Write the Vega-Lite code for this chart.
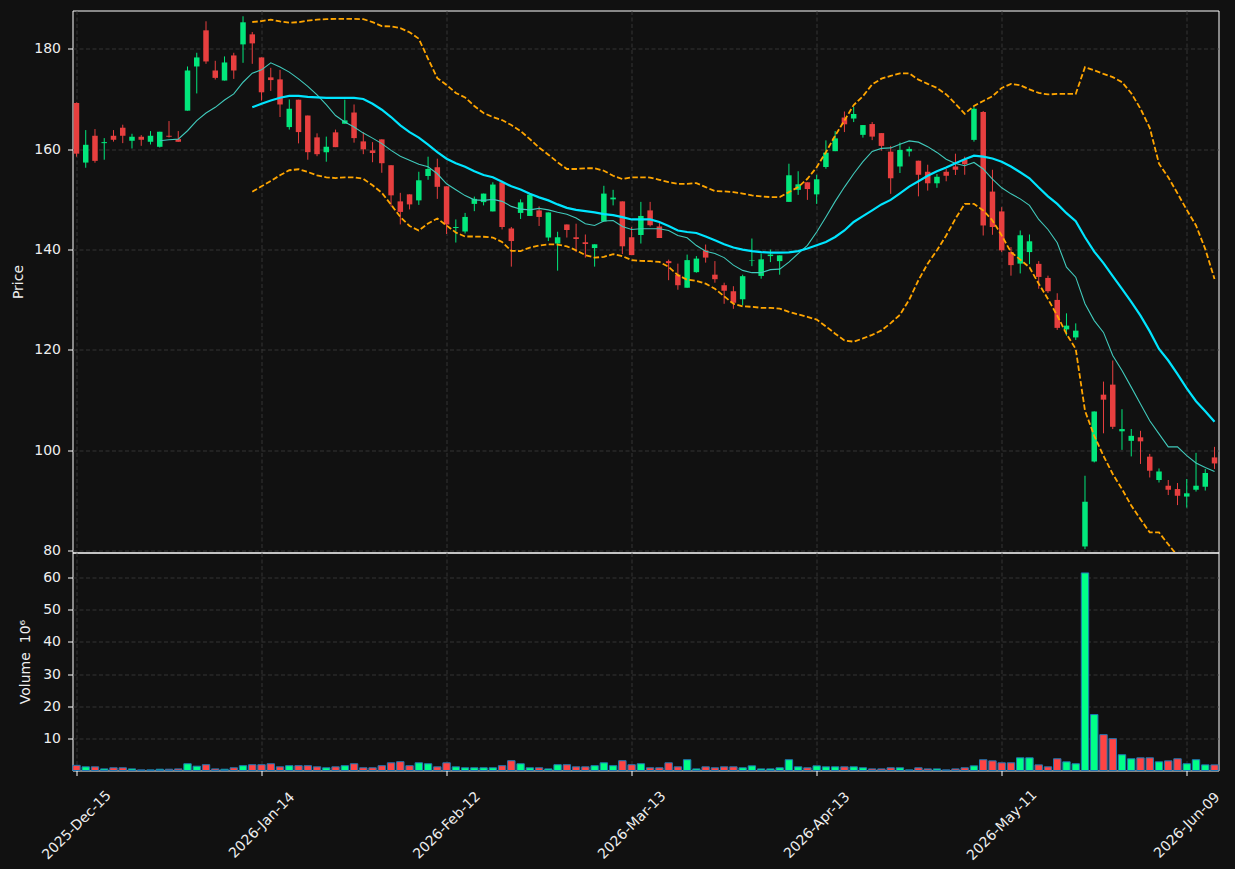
{
  "$schema": "https://vega.github.io/schema/vega-lite/v6.json",
  "background": "#111111",
  "padding": {"left": 10.5, "top": 9.5, "right": 15, "bottom": 5},
  "spacing": 0,
  "bounds": "flush",
  "config": {
    "font": "DejaVu Sans",
    "view": {"stroke": "#ffffff", "strokeWidth": 1},
    "axis": {
      "labelColor": "#eeeeee", "titleColor": "#eeeeee",
      "labelFontSize": 14, "titleFontSize": 14, "titleFontWeight": "normal",
      "labelFont": "DejaVu Sans", "titleFont": "DejaVu Sans",
      "tickColor": "#ffffff", "tickSize": 5, "domain": false,
      "gridColor": "#3d3d3d", "gridDash": [4, 2.5], "gridWidth": 0.8,
      "labelOverlap": false
    }
  },
  "data": {"values": [
    {"d":"2025-12-15","o":169.2,"h":169.3,"l":158.5,"c":159.1,"v":1.6},
    {"d":"2025-12-16","o":157.33,"h":163.8,"l":156.3,"c":160.87,"v":1.15},
    {"d":"2025-12-17","o":162.67,"h":164.0,"l":157.3,"c":157.67,"v":1.15},
    {"d":"2025-12-18","o":161.2,"h":162.2,"l":157.9,"c":161.4,"v":0.5},
    {"d":"2025-12-19","o":162.67,"h":163.8,"l":161.5,"c":161.87,"v":0.85},
    {"d":"2025-12-22","o":164.27,"h":164.87,"l":161.2,"c":162.67,"v":0.85},
    {"d":"2025-12-23","o":161.67,"h":163.07,"l":160.13,"c":162.47,"v":0.5},
    {"d":"2025-12-24","o":162.47,"h":162.8,"l":160.67,"c":161.87,"v":0.2},
    {"d":"2025-12-26","o":161.47,"h":163.6,"l":160.93,"c":162.67,"v":0.2},
    {"d":"2025-12-29","o":160.47,"h":163.47,"l":160.33,"c":163.47,"v":0.4,"m10":161.67},
    {"d":"2025-12-30","o":162.67,"h":165.6,"l":162.33,"c":162.47,"v":0.4,"m10":161.87},
    {"d":"2025-12-31","o":162.0,"h":163.6,"l":161.47,"c":161.47,"v":0.5,"m10":162.0},
    {"d":"2026-01-02","o":167.67,"h":176.47,"l":167.67,"c":175.67,"v":2.1,"m10":163.67},
    {"d":"2026-01-05","o":176.47,"h":179.2,"l":171.1,"c":178.27,"v":1.35,"m10":165.67},
    {"d":"2026-01-06","o":183.67,"h":185.47,"l":177.0,"c":177.47,"v":1.8,"m10":167.2},
    {"d":"2026-01-07","o":175.67,"h":177.6,"l":173.87,"c":174.2,"v":0.5,"m10":168.33},
    {"d":"2026-01-08","o":173.67,"h":178.47,"l":173.67,"c":177.27,"v":0.4,"m10":169.8},
    {"d":"2026-01-09","o":178.67,"h":179.2,"l":174.0,"c":175.67,"v":0.85,"m10":171.0},
    {"d":"2026-01-12","o":180.87,"h":186.47,"l":177.2,"c":185.27,"v":1.5,"m10":173.33},
    {"d":"2026-01-13","o":182.87,"h":183.33,"l":177.0,"c":181.07,"v":1.8,"m10":175.13,"m20":168.33,"bu":185.33,"bl":151.53},
    {"d":"2026-01-14","o":178.27,"h":178.27,"l":169.67,"c":171.33,"v":1.8,"m10":175.8,"m20":169.05,"bu":185.5,"bl":152.6},
    {"d":"2026-01-15","o":174.3,"h":176.2,"l":171.6,"c":173.76,"v":2.1,"m10":177.2,"m20":169.7,"bu":185.8,"bl":153.65},
    {"d":"2026-01-16","o":173.9,"h":175.8,"l":166.4,"c":168.9,"v":1.15,"m10":176.35,"m20":170.25,"bu":185.45,"bl":154.8},
    {"d":"2026-01-20","o":164.4,"h":169.9,"l":163.9,"c":168.05,"v":1.5,"m10":175.35,"m20":170.6,"bu":185.2,"bl":155.8},
    {"d":"2026-01-21","o":169.85,"h":169.85,"l":161.15,"c":163.4,"v":1.5,"m10":174.0,"m20":170.6,"bu":185.3,"bl":156.0},
    {"d":"2026-01-22","o":166.7,"h":166.7,"l":157.9,"c":159.4,"v":1.5,"m10":172.5,"m20":170.4,"bu":185.6,"bl":155.45},
    {"d":"2026-01-23","o":162.35,"h":163.15,"l":158.6,"c":159.0,"v":1.15,"m10":170.8,"m20":170.3,"bu":185.8,"bl":154.8},
    {"d":"2026-01-26","o":159.4,"h":162.5,"l":157.5,"c":160.5,"v":0.85,"m10":168.85,"m20":170.2,"bu":185.9,"bl":154.4},
    {"d":"2026-01-27","o":163.35,"h":163.9,"l":160.4,"c":160.4,"v":1.15,"m10":166.7,"m20":170.2,"bu":185.95,"bl":154.25},
    {"d":"2026-01-28","o":165.07,"h":169.85,"l":165.07,"c":165.73,"v":1.5,"m10":165.4,"m20":170.2,"bu":185.95,"bl":154.4},
    {"d":"2026-01-29","o":167.3,"h":168.9,"l":161.3,"c":162.2,"v":2.1,"m10":164.4,"m20":170.2,"bu":185.95,"bl":154.4},
    {"d":"2026-01-30","o":161.55,"h":163.4,"l":159.0,"c":159.96,"v":0.85,"m10":163.2,"m20":170.0,"bu":185.9,"bl":154.1},
    {"d":"2026-02-02","o":159.76,"h":161.4,"l":157.4,"c":159.23,"v":0.85,"m10":162.2,"m20":169.05,"bu":185.3,"bl":152.8},
    {"d":"2026-02-03","o":161.95,"h":161.95,"l":155.3,"c":157.2,"v":1.5,"m10":161.1,"m20":167.85,"bu":184.5,"bl":151.3},
    {"d":"2026-02-04","o":156.8,"h":156.8,"l":148.6,"c":150.8,"v":2.4,"m10":159.75,"m20":166.4,"bu":184.45,"bl":148.95},
    {"d":"2026-02-05","o":149.6,"h":151.3,"l":145.0,"c":147.5,"v":2.75,"m10":158.6,"m20":164.75,"bu":184.1,"bl":146.5},
    {"d":"2026-02-06","o":151.0,"h":151.0,"l":148.0,"c":149.0,"v":1.5,"m10":157.8,"m20":163.4,"bu":183.3,"bl":144.7},
    {"d":"2026-02-09","o":149.8,"h":155.5,"l":148.9,"c":153.8,"v":2.4,"m10":157.0,"m20":162.3,"bu":182.0,"bl":143.8},
    {"d":"2026-02-10","o":154.65,"h":158.5,"l":153.9,"c":156.05,"v":2.1,"m10":156.5,"m20":160.9,"bu":178.0,"bl":145.2},
    {"d":"2026-02-11","o":156.4,"h":158.1,"l":150.1,"c":152.5,"v":1.15,"m10":155.1,"m20":159.4,"bu":174.15,"bl":146.2},
    {"d":"2026-02-12","o":152.6,"h":152.6,"l":143.1,"c":145.0,"v":2.4,"m10":153.1,"m20":158.1,"bu":172.8,"bl":144.8},
    {"d":"2026-02-13","o":144.3,"h":146.0,"l":141.4,"c":144.5,"v":1.15,"m10":151.9,"m20":157.2,"bu":171.2,"bl":143.4},
    {"d":"2026-02-17","o":143.6,"h":147.3,"l":143.2,"c":146.5,"v":0.85,"m10":150.75,"m20":156.5,"bu":170.3,"bl":142.6},
    {"d":"2026-02-18","o":149.1,"h":150.55,"l":147.65,"c":150.1,"v":0.85,"m10":149.9,"m20":155.6,"bu":168.6,"bl":142.6},
    {"d":"2026-02-19","o":149.45,"h":151.15,"l":148.8,"c":151.15,"v":0.85,"m10":149.8,"m20":154.85,"bu":167.2,"bl":142.55},
    {"d":"2026-02-20","o":147.6,"h":153.4,"l":147.6,"c":152.95,"v":0.85,"m10":150.0,"m20":154.4,"bu":166.4,"bl":142.4},
    {"d":"2026-02-23","o":153.4,"h":153.7,"l":144.0,"c":144.5,"v":1.5,"m10":149.6,"m20":153.5,"bu":165.8,"bl":141.5},
    {"d":"2026-02-24","o":144.2,"h":144.5,"l":136.6,"c":141.7,"v":3.05,"m10":148.6,"m20":152.6,"bu":164.8,"bl":139.75},
    {"d":"2026-02-25","o":147.3,"h":150.0,"l":146.1,"c":149.4,"v":2.1,"m10":148.05,"m20":151.95,"bu":163.6,"bl":139.7},
    {"d":"2026-02-26","o":146.7,"h":151.1,"l":146.7,"c":150.95,"v":0.85,"m10":147.9,"m20":151.1,"bu":162.0,"bl":140.4},
    {"d":"2026-02-27","o":147.8,"h":148.6,"l":144.7,"c":146.5,"v":0.85,"m10":148.2,"m20":150.4,"bu":160.3,"bl":140.8},
    {"d":"2026-03-02","o":142.4,"h":147.4,"l":141.7,"c":147.4,"v":0.5,"m10":147.9,"m20":149.8,"bu":158.9,"bl":141.05},
    {"d":"2026-03-03","o":141.2,"h":143.55,"l":135.8,"c":142.45,"v":1.8,"m10":147.45,"m20":149.0,"bu":157.4,"bl":141.0},
    {"d":"2026-03-04","o":145.0,"h":145.0,"l":142.4,"c":143.9,"v":1.8,"m10":147.05,"m20":148.3,"bu":156.05,"bl":140.65},
    {"d":"2026-03-05","o":142.45,"h":145.15,"l":139.5,"c":142.1,"v":1.15,"m10":146.3,"m20":147.9,"bu":156.05,"bl":139.85},
    {"d":"2026-03-06","o":141.45,"h":143.0,"l":138.4,"c":141.1,"v":1.15,"m10":145.15,"m20":147.65,"bu":156.2,"bl":138.9},
    {"d":"2026-03-09","o":140.3,"h":141.05,"l":136.6,"c":141.05,"v":1.5,"m10":144.8,"m20":147.4,"bu":156.2,"bl":138.4},
    {"d":"2026-03-10","o":145.6,"h":152.7,"l":145.6,"c":151.15,"v":2.4,"m10":145.7,"m20":147.05,"bu":155.7,"bl":138.55},
    {"d":"2026-03-11","o":150.0,"h":151.9,"l":148.8,"c":150.35,"v":1.5,"m10":145.8,"m20":146.85,"bu":154.7,"bl":139.1},
    {"d":"2026-03-12","o":149.6,"h":149.6,"l":139.1,"c":140.65,"v":3.05,"m10":144.6,"m20":146.45,"bu":154.05,"bl":138.7},
    {"d":"2026-03-13","o":142.45,"h":144.5,"l":138.9,"c":138.9,"v":1.8,"m10":144.0,"m20":146.0,"bu":154.4,"bl":137.9},
    {"d":"2026-03-16","o":142.9,"h":149.5,"l":141.2,"c":146.7,"v":2.1,"m10":144.15,"m20":146.0,"bu":154.4,"bl":137.75},
    {"d":"2026-03-17","o":147.8,"h":149.5,"l":144.6,"c":144.85,"v":0.85,"m10":144.15,"m20":146.0,"bu":154.35,"bl":137.7},
    {"d":"2026-03-18","o":144.6,"h":145.5,"l":142.3,"c":142.3,"v":0.85,"m10":144.15,"m20":145.5,"bu":153.9,"bl":137.55},
    {"d":"2026-03-19","o":137.7,"h":138.0,"l":133.9,"c":137.3,"v":2.4,"m10":143.8,"m20":144.7,"bu":153.45,"bl":136.55},
    {"d":"2026-03-20","o":135.0,"h":137.2,"l":132.0,"c":132.9,"v":1.15,"m10":142.8,"m20":143.8,"bu":153.1,"bl":134.9},
    {"d":"2026-03-23","o":132.4,"h":139.0,"l":132.4,"c":137.9,"v":3.35,"m10":142.35,"m20":143.5,"bu":153.1,"bl":134.0},
    {"d":"2026-03-24","o":135.5,"h":138.7,"l":135.4,"c":138.2,"v":0.5,"m10":140.8,"m20":143.3,"bu":153.25,"bl":133.75},
    {"d":"2026-03-25","o":139.85,"h":141.0,"l":137.4,"c":138.4,"v":1.15,"m10":139.65,"m20":142.6,"bu":152.45,"bl":133.2},
    {"d":"2026-03-26","o":135.0,"h":137.7,"l":133.4,"c":134.1,"v":0.85,"m10":139.2,"m20":141.85,"bu":151.65,"bl":132.2},
    {"d":"2026-03-27","o":132.9,"h":133.4,"l":129.2,"c":131.8,"v":1.15,"m10":138.4,"m20":141.05,"bu":151.6,"bl":130.7},
    {"d":"2026-03-30","o":131.7,"h":132.7,"l":128.2,"c":129.4,"v":1.15,"m10":136.9,"m20":140.4,"bu":151.45,"bl":129.2},
    {"d":"2026-03-31","o":130.1,"h":135.0,"l":128.9,"c":134.7,"v":0.85,"m10":135.85,"m20":140.0,"bu":151.15,"bl":128.7},
    {"d":"2026-04-01","o":137.75,"h":142.2,"l":136.7,"c":137.85,"v":1.45,"m10":135.4,"m20":139.7,"bu":150.8,"bl":128.6},
    {"d":"2026-04-02","o":134.75,"h":139.2,"l":134.2,"c":138.05,"v":0.5,"m10":135.4,"m20":139.5,"bu":150.6,"bl":128.4},
    {"d":"2026-04-06","o":138.7,"h":140.0,"l":137.5,"c":139.0,"v":0.5,"m10":136.0,"m20":139.4,"bu":150.45,"bl":128.4},
    {"d":"2026-04-07","o":137.7,"h":138.85,"l":135.0,"c":138.85,"v":0.85,"m10":136.1,"m20":139.4,"bu":150.45,"bl":128.25},
    {"d":"2026-04-08","o":149.5,"h":157.1,"l":149.5,"c":154.8,"v":3.35,"m10":137.5,"m20":139.45,"bu":151.45,"bl":127.6},
    {"d":"2026-04-09","o":151.9,"h":155.6,"l":150.9,"c":153.0,"v":1.15,"m10":139.2,"m20":139.7,"bu":152.45,"bl":127.1},
    {"d":"2026-04-10","o":153.4,"h":153.4,"l":149.9,"c":152.05,"v":0.85,"m10":140.85,"m20":140.2,"bu":154.1,"bl":126.6},
    {"d":"2026-04-13","o":151.0,"h":154.9,"l":149.1,"c":154.0,"v":1.45,"m10":143.5,"m20":140.85,"bu":156.4,"bl":126.05},
    {"d":"2026-04-14","o":156.45,"h":161.75,"l":156.1,"c":159.3,"v":1.15,"m10":146.5,"m20":141.5,"bu":159.4,"bl":124.7},
    {"d":"2026-04-15","o":159.6,"h":163.6,"l":159.6,"c":162.15,"v":1.15,"m10":149.6,"m20":142.5,"bu":162.7,"bl":123.25},
    {"d":"2026-04-16","o":166.3,"h":167.5,"l":163.4,"c":164.95,"v":1.15,"m10":152.45,"m20":143.8,"bu":165.7,"bl":121.9},
    {"d":"2026-04-17","o":166.1,"h":168.4,"l":165.4,"c":167.0,"v":1.15,"m10":155.1,"m20":145.5,"bu":168.8,"bl":121.65},
    {"d":"2026-04-20","o":162.85,"h":164.8,"l":162.3,"c":164.8,"v":0.85,"m10":157.5,"m20":146.65,"bu":170.55,"bl":122.3},
    {"d":"2026-04-21","o":165.0,"h":165.4,"l":161.8,"c":162.5,"v":0.5,"m10":159.55,"m20":147.8,"bu":172.9,"bl":123.0},
    {"d":"2026-04-22","o":163.2,"h":163.2,"l":159.7,"c":160.65,"v":0.5,"m10":160.15,"m20":149.0,"bu":174.05,"bl":123.9},
    {"d":"2026-04-23","o":159.5,"h":160.65,"l":151.1,"c":154.2,"v":0.85,"m10":160.25,"m20":149.9,"bu":174.6,"bl":125.35},
    {"d":"2026-04-24","o":156.55,"h":161.3,"l":155.25,"c":159.85,"v":0.85,"m10":161.0,"m20":151.2,"bu":175.1,"bl":127.0},
    {"d":"2026-04-27","o":159.55,"h":160.5,"l":158.55,"c":160.05,"v":0.2,"m10":161.65,"m20":152.55,"bu":175.1,"bl":130.0},
    {"d":"2026-04-28","o":157.7,"h":157.7,"l":150.6,"c":154.9,"v":0.85,"m10":161.4,"m20":153.6,"bu":173.85,"bl":133.9},
    {"d":"2026-04-29","o":155.5,"h":156.9,"l":151.75,"c":153.2,"v":0.5,"m10":160.5,"m20":154.7,"bu":173.0,"bl":137.2},
    {"d":"2026-04-30","o":153.2,"h":155.05,"l":152.3,"c":154.5,"v":0.5,"m10":159.35,"m20":155.6,"bu":172.2,"bl":139.85},
    {"d":"2026-05-01","o":155.5,"h":156.05,"l":153.6,"c":154.7,"v":0.2,"m10":158.0,"m20":156.35,"bu":170.9,"bl":142.8},
    {"d":"2026-05-04","o":156.55,"h":159.1,"l":154.85,"c":155.9,"v":0.5,"m10":157.15,"m20":157.2,"bu":169.05,"bl":146.15},
    {"d":"2026-05-05","o":157.95,"h":158.5,"l":154.9,"c":157.0,"v":0.85,"m10":156.7,"m20":158.0,"bu":167.05,"bl":149.1},
    {"d":"2026-05-06","o":161.85,"h":168.4,"l":161.5,"c":168.05,"v":1.45,"m10":157.35,"m20":158.7,"bu":168.6,"bl":149.1},
    {"d":"2026-05-07","o":167.4,"h":167.6,"l":142.8,"c":144.8,"v":3.35,"m10":156.05,"m20":158.5,"bu":169.6,"bl":147.8},
    {"d":"2026-05-08","o":151.55,"h":155.9,"l":142.95,"c":144.5,"v":3.0,"m10":154.05,"m20":158.15,"bu":170.55,"bl":145.8},
    {"d":"2026-05-11","o":147.6,"h":148.45,"l":139.5,"c":139.85,"v":2.4,"m10":152.3,"m20":157.5,"bu":172.2,"bl":142.8},
    {"d":"2026-05-12","o":139.5,"h":140.5,"l":134.8,"c":136.9,"v":2.4,"m10":151.1,"m20":156.55,"bu":173.0,"bl":139.5},
    {"d":"2026-05-13","o":137.2,"h":143.8,"l":135.25,"c":142.85,"v":3.95,"m10":150.1,"m20":155.4,"bu":172.75,"bl":138.0},
    {"d":"2026-05-14","o":139.5,"h":143.0,"l":137.1,"c":141.65,"v":3.95,"m10":148.8,"m20":154.2,"bu":171.9,"bl":136.45},
    {"d":"2026-05-15","o":137.15,"h":137.7,"l":132.2,"c":134.55,"v":1.75,"m10":146.0,"m20":152.35,"bu":171.2,"bl":133.2},
    {"d":"2026-05-18","o":134.35,"h":134.8,"l":131.35,"c":131.7,"v":1.15,"m10":144.0,"m20":150.6,"bu":170.9,"bl":130.15},
    {"d":"2026-05-19","o":129.97,"h":131.3,"l":124.0,"c":124.4,"v":3.65,"m10":141.35,"m20":149.1,"bu":171.0,"bl":126.85},
    {"d":"2026-05-20","o":124.1,"h":127.3,"l":122.85,"c":124.85,"v":2.7,"m10":136.5,"m20":147.25,"bu":171.0,"bl":123.2},
    {"d":"2026-05-21","o":122.5,"h":125.3,"l":122.0,"c":123.85,"v":2.1,"m10":134.5,"m20":145.65,"bu":171.0,"bl":120.2},
    {"d":"2026-05-22","o":80.86,"h":94.95,"l":80.33,"c":89.77,"v":61.45,"m10":129.2,"m20":142.45,"bu":176.35,"bl":107.9},
    {"d":"2026-05-26","o":97.8,"h":107.77,"l":97.6,"c":107.77,"v":17.4,"m10":125.85,"m20":139.6,"bu":175.7,"bl":102.9},
    {"d":"2026-05-27","o":111.1,"h":113.7,"l":103.4,"c":110.1,"v":11.15,"m10":123.5,"m20":137.3,"bu":175.0,"bl":98.9},
    {"d":"2026-05-28","o":113.1,"h":117.9,"l":104.25,"c":104.7,"v":9.9,"m10":118.9,"m20":134.7,"bu":174.35,"bl":95.3},
    {"d":"2026-05-29","o":103.8,"h":108.2,"l":100.1,"c":104.25,"v":4.9,"m10":115.9,"m20":132.15,"bu":173.35,"bl":92.3},
    {"d":"2026-06-01","o":101.9,"h":104.25,"l":98.8,"c":102.9,"v":3.65,"m10":112.6,"m20":129.6,"bu":171.15,"bl":89.0},
    {"d":"2026-06-02","o":102.6,"h":103.9,"l":97.3,"c":101.8,"v":3.95,"m10":109.25,"m20":126.85,"bu":168.05,"bl":86.3},
    {"d":"2026-06-03","o":98.75,"h":99.3,"l":94.6,"c":95.95,"v":3.95,"m10":105.9,"m20":123.7,"bu":164.25,"bl":83.65},
    {"d":"2026-06-04","o":94.1,"h":96.4,"l":93.6,"c":95.8,"v":2.7,"m10":103.3,"m20":120.2,"bu":157.1,"bl":83.65},
    {"d":"2026-06-05","o":92.96,"h":94.1,"l":91.1,"c":92.16,"v":3.0,"m10":100.7,"m20":117.9,"bu":154.4,"bl":81.3},
    {"d":"2026-06-08","o":92.3,"h":93.5,"l":89.1,"c":90.96,"v":3.65,"m10":100.7,"m20":115.2,"bu":151.2,"bl":79.0},
    {"d":"2026-06-09","o":90.8,"h":94.3,"l":88.6,"c":91.45,"v":2.1,"m10":98.95,"m20":112.35,"bu":147.9,"bl":76.8},
    {"d":"2026-06-10","o":92.16,"h":99.5,"l":91.8,"c":92.96,"v":3.35,"m10":97.5,"m20":109.8,"bu":144.8,"bl":74.8},
    {"d":"2026-06-11","o":92.76,"h":96.3,"l":92.0,"c":95.5,"v":1.75,"m10":96.6,"m20":107.8,"bu":140.1,"bl":75.5},
    {"d":"2026-06-12","o":98.6,"h":100.7,"l":96.3,"c":97.4,"v":1.75,"m10":95.8,"m20":105.7,"bu":134.15,"bl":77.25}
  ]},
  "vconcat": [
    {
      "width": 1146,
      "height": 542,
      "encoding": {
        "x": {
          "field": "d", "type": "ordinal",
          "scale": {"type": "point", "padding": 0.43, "round": false},
          "axis": {
            "values": ["2025-12-15","2026-01-14","2026-02-12","2026-03-13","2026-04-13","2026-05-11","2026-06-09"],
            "grid": true, "labels": false, "ticks": false, "domain": false, "title": null,
            "minExtent": 0, "maxExtent": 0
          }
        }
      },
      "layer": [
        {
          "mark": {"type": "rule", "strokeWidth": 1},
          "encoding": {
            "y": {
              "field": "l", "type": "quantitative", "title": "Price",
              "scale": {"domain": [79.66, 187.62], "nice": false, "zero": false},
              "axis": {"values": [80, 100, 120, 140, 160, 180], "grid": true, "titlePadding": 8.5, "labelPadding": 7}
            },
            "y2": {"field": "h"},
            "color": {"condition": {"test": "datum.c >= datum.o", "value": "#02e77c"}, "value": "#e73f3f"}
          }
        },
        {
          "mark": {"type": "bar", "size": 5.5},
          "encoding": {
            "y": {"field": "o", "type": "quantitative", "title": "Price"},
            "y2": {"field": "c"},
            "color": {"condition": {"test": "datum.c >= datum.o", "value": "#02e77c"}, "value": "#e73f3f"}
          }
        },
        {
          "mark": {"type": "line", "color": "#ffa500", "strokeWidth": 1.8, "strokeDash": [5.5, 2.4], "clip": true},
          "encoding": {"y": {"field": "bu", "type": "quantitative", "title": "Price"}}
        },
        {
          "mark": {"type": "line", "color": "#ffa500", "strokeWidth": 1.8, "strokeDash": [5.5, 2.4], "clip": true},
          "encoding": {"y": {"field": "bl", "type": "quantitative", "title": "Price"}}
        },
        {
          "mark": {"type": "line", "color": "#40c9bb", "strokeWidth": 1.1, "clip": true},
          "encoding": {"y": {"field": "m10", "type": "quantitative", "title": "Price"}}
        },
        {
          "mark": {"type": "line", "color": "#00e5ff", "strokeWidth": 2.2, "clip": true},
          "encoding": {"y": {"field": "m20", "type": "quantitative", "title": "Price"}}
        }
      ]
    },
    {
      "width": 1146,
      "height": 218,
      "mark": {"type": "bar", "size": 7.4, "stroke": "#1f77b4", "strokeWidth": 1},
      "encoding": {
        "x": {
          "field": "d", "type": "ordinal",
          "scale": {"type": "point", "padding": 0.43, "round": false},
          "axis": {
            "values": ["2025-12-15","2026-01-14","2026-02-12","2026-03-13","2026-04-13","2026-05-11","2026-06-09"],
            "labelExpr": "utcFormat(toDate(datum.value), '%Y-%b-%d')",
            "labelAngle": -45, "labelAlign": "center", "labelBaseline": "middle", "labelPadding": 49.5,
            "grid": true, "title": null, "domain": false
          }
        },
        "y": {
          "field": "v", "type": "quantitative", "title": "Volume \u00a010⁶",
          "scale": {"domain": [0, 67.8], "nice": false},
          "axis": {"values": [10, 20, 30, 40, 50, 60], "grid": true, "titlePadding": 9.7, "labelPadding": 7}
        },
        "color": {"condition": {"test": "datum.c >= datum.o", "value": "#00ff88"}, "value": "#ff4444"}
      }
    }
  ]
}
